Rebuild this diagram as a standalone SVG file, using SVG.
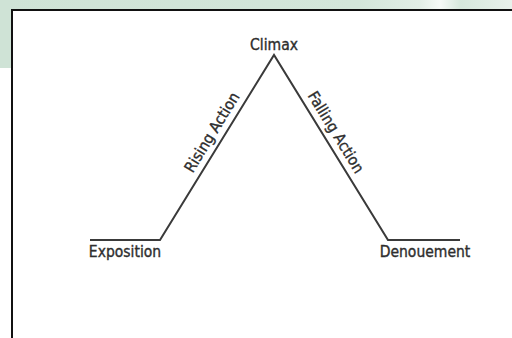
<svg xmlns="http://www.w3.org/2000/svg" width="512" height="338" viewBox="0 0 512 338">
<defs>
<linearGradient id="bg" x1="0" y1="0" x2="1" y2="0">
<stop offset="0" stop-color="#cfe3d6"/>
<stop offset="0.7" stop-color="#d3e6da"/>
<stop offset="0.82" stop-color="#e2eee6"/>
<stop offset="0.86" stop-color="#f6faf7"/>
<stop offset="0.9" stop-color="#d6e8dc"/>
<stop offset="1" stop-color="#e8f1eb"/>
</linearGradient>
<style>
.lbl{font-family:"DejaVu Sans Condensed","Liberation Sans Narrow","Liberation Sans",sans-serif;font-size:15.5px;fill:#2e2e2e;stroke:#2e2e2e;stroke-width:0.35}
.ln{fill:none;stroke:#3a3a3a;stroke-width:2}
</style>
</defs>
<rect x="0" y="0" width="512" height="338" fill="#ffffff"/>
<rect x="0" y="0" width="512" height="10" fill="url(#bg)"/>
<rect x="0" y="0" width="12" height="68" fill="#cfe3d6"/>
<rect x="12" y="10" width="510" height="340" fill="#ffffff" stroke="#111" stroke-width="2"/>
<g id="connectors">
<polyline class="ln" points="90,240 160,240 274,55 388,240 460,240"/>
</g>
<g id="climax"><text class="lbl" x="274" y="50" text-anchor="middle">Climax</text></g>
<g id="exposition"><text class="lbl" x="125" y="257" text-anchor="middle">Exposition</text></g>
<g id="denouement"><text class="lbl" x="425" y="257" text-anchor="middle">Denouement</text></g>
<g id="rising"><text class="lbl" x="216.4" y="135.1" text-anchor="middle" transform="rotate(-58.4 216.4 135.1)">Rising Action</text></g>
<g id="falling"><text class="lbl" x="331.5" y="135" text-anchor="middle" transform="rotate(58.4 331.5 135)">Falling Action</text></g>
</svg>
